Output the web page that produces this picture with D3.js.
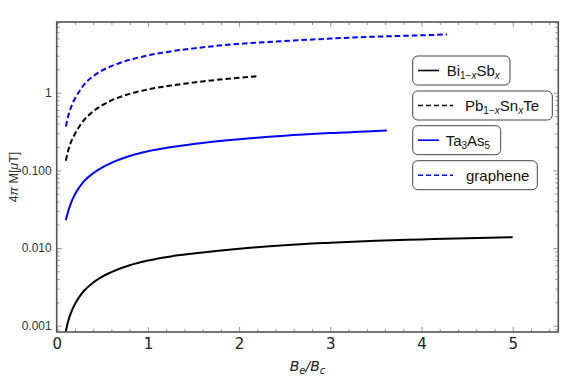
<!DOCTYPE html>
<html>
<head>
<meta charset="utf-8">
<script src="https://cdn.jsdelivr.net/npm/d3@7"></script>
<style>
  body { margin: 0; background: #fff; }
  svg { display: block; }
</style>
</head>
<body>
<div id="container"></div>
<script>
// values
let biX = [0.1, 0.125, 0.15, 0.2, 0.25, 0.3, 0.4, 0.5, 0.6, 0.8, 1.0, 1.25, 1.5, 2.0, 2.5, 3.0, 3.5, 4.0, 4.5, 5.0];
let biY = [0.00084, 0.00114, 0.0014, 0.0019, 0.00237, 0.00282, 0.0036, 0.0043, 0.0049, 0.0060, 0.0069, 0.0078, 0.0085, 0.0098, 0.0109, 0.0117, 0.0124, 0.0129, 0.0134, 0.0138];

let pbX = [0.1, 0.125, 0.15, 0.2, 0.25, 0.3, 0.4, 0.5, 0.6, 0.8, 1.0, 1.25, 1.5, 2.0, 2.21];
let pbY = [0.133, 0.178, 0.22, 0.295, 0.37, 0.445, 0.575, 0.69, 0.795, 0.965, 1.10, 1.235, 1.35, 1.56, 1.63];

let taX = [0.1, 0.125, 0.15, 0.2, 0.25, 0.3, 0.4, 0.5, 0.6, 0.8, 1.0, 1.25, 1.5, 2.0, 2.5, 3.0, 3.5, 3.62];
let taY = [0.0228, 0.0295, 0.0362, 0.0493, 0.061, 0.0725, 0.092, 0.109, 0.125, 0.153, 0.176, 0.199, 0.219, 0.252, 0.280, 0.302, 0.321, 0.327];

let grX = [0.1, 0.125, 0.15, 0.2, 0.25, 0.3, 0.4, 0.5, 0.6, 0.8, 1.0, 1.25, 1.5, 2.0, 2.5, 3.0, 3.5, 4.0, 4.28];
let grY = [0.366, 0.495, 0.615, 0.84, 1.05, 1.27, 1.63, 1.94, 2.2, 2.65, 3.02, 3.40, 3.72, 4.25, 4.62, 4.97, 5.27, 5.48, 5.62];

let xTicks = [0, 1, 2, 3, 4, 5];
let xTickLabels = ["0", "1", "2", "3", "4", "5"];
let yTicks = [0.001, 0.01, 0.1, 1];
let yTickLabels = ["0.001", "0.010", "0.100", "1"];

let w = 565;
let h = 377;
let plotL = 56.7, plotR = 558.3, plotT = 22, plotB = 332;

let viz = d3.select("#container")
  .append("svg")
    .attr("width", w)
    .attr("height", h)
;

let xScale = d3.scaleLinear().domain([0, 5.5]).range([plotL, plotR]);
let yScale = d3.scaleLog().domain([0.00083, 8.13]).range([plotB, plotT]);

// minor ticks
let xMinor = d3.range(0, 5.51, 0.2).filter(function(v){ return Math.abs(v - Math.round(v)) > 0.01; });
let yMinor = [];
[0.0001, 0.001, 0.01, 0.1, 1].forEach(function(d){
  for (let k = 2; k <= 9; k++) {
    let v = d * k;
    if (v > 0.00083 && v < 8.13) yMinor.push(v);
  }
});

function styleAxis(g){
  g.select(".domain").remove();
  g.selectAll(".tick line").attr("stroke", "#999").attr("stroke-width", 1);
}

// major ticks with labels
viz.append("g")
  .attr("transform", "translate(0," + plotB + ")")
  .call(d3.axisBottom(xScale).tickValues(xTicks).tickSize(-5).tickPadding(6)
    .tickFormat(function(d, i){ return xTickLabels[i]; }))
  .call(styleAxis)
  .call(function(g){
    g.selectAll("text").attr("font-family", "DejaVu Sans").attr("font-size", 15).attr("fill", "#222");
  })
;
viz.append("g")
  .attr("transform", "translate(" + plotL + ",0)")
  .call(d3.axisLeft(yScale).tickValues(yTicks).tickSize(-5).tickPadding(5)
    .tickFormat(function(d, i){ return yTickLabels[i]; }))
  .call(styleAxis)
  .call(function(g){
    g.selectAll("text").attr("font-family", "Liberation Sans").attr("font-size", 12).attr("fill", "#333");
  })
;
// mirrored ticks
viz.append("g")
  .attr("transform", "translate(0," + plotT + ")")
  .call(d3.axisTop(xScale).tickValues(xTicks).tickSize(-5).tickFormat(""))
  .call(styleAxis)
;
viz.append("g")
  .attr("transform", "translate(" + plotR + ",0)")
  .call(d3.axisRight(yScale).tickValues(yTicks).tickSize(-5).tickFormat(""))
  .call(styleAxis)
;
// minor ticks on all four sides
viz.append("g").attr("transform", "translate(0," + plotB + ")")
  .call(d3.axisBottom(xScale).tickValues(xMinor).tickSize(-3).tickFormat("")).call(styleAxis);
viz.append("g").attr("transform", "translate(0," + plotT + ")")
  .call(d3.axisTop(xScale).tickValues(xMinor).tickSize(-3).tickFormat("")).call(styleAxis);
viz.append("g").attr("transform", "translate(" + plotL + ",0)")
  .call(d3.axisLeft(yScale).tickValues(yMinor).tickSize(-3).tickFormat("")).call(styleAxis);
viz.append("g").attr("transform", "translate(" + plotR + ",0)")
  .call(d3.axisRight(yScale).tickValues(yMinor).tickSize(-3).tickFormat("")).call(styleAxis);

// curves, clipped to the frame
viz.append("clipPath").attr("id", "clip")
  .append("rect")
    .attr("x", plotL).attr("y", plotT)
    .attr("width", plotR - plotL).attr("height", plotB - plotT)
;

let series = [
  { xs: biX, ys: biY, color: "black", dash: null },
  { xs: pbX, ys: pbY, color: "black", dash: "5.5,3" },
  { xs: taX, ys: taY, color: "#0000ff", dash: null },
  { xs: grX, ys: grY, color: "#0000ff", dash: "5.5,3" }
];

let line = d3.line()
  .x(function(d){ return xScale(d[0]); })
  .y(function(d){ return yScale(d[1]); })
  .curve(d3.curveMonotoneX)
;

viz.append("g").attr("clip-path", "url(#clip)")
  .selectAll("path").data(series).enter()
  .append("path")
    .attr("d", function(s){ return line(d3.zip(s.xs, s.ys)); })
    .attr("fill", "none")
    .attr("stroke", function(s){ return s.color; })
    .attr("stroke-width", 2)
    .attr("stroke-dasharray", function(s){ return s.dash; })
;

// frame
viz.append("rect")
  .attr("x", plotL).attr("y", plotT)
  .attr("width", plotR - plotL).attr("height", plotB - plotT)
  .attr("fill", "none")
  .attr("stroke", "#555")
  .attr("stroke-width", 1.6)
;

// axis labels
let xLabel = viz.append("text")
  .attr("x", (plotL + plotR) / 2)
  .attr("y", 371)
  .attr("text-anchor", "middle")
  .attr("font-family", "DejaVu Sans")
  .attr("font-size", 14)
  .attr("font-style", "italic")
  .attr("fill", "#222")
;
xLabel.append("tspan").text("B");
xLabel.append("tspan").attr("font-size", 10).attr("dy", 3).text("e");
xLabel.append("tspan").attr("dy", -3).text("/B");
xLabel.append("tspan").attr("font-size", 10).attr("dy", 3).text("c");

let yLabel = viz.append("text")
  .attr("transform", "translate(18," + ((plotT + plotB) / 2) + ") rotate(-90)")
  .attr("text-anchor", "middle")
  .attr("font-family", "Liberation Sans")
  .attr("font-size", 12.5)
  .attr("fill", "#333")
;
yLabel.append("tspan").text("4");
yLabel.append("tspan").attr("font-style", "italic").text("π");
yLabel.append("tspan").text(" M[");
yLabel.append("tspan").attr("font-style", "italic").text("μ");
yLabel.append("tspan").text("T]");

// legend
let legendItems = [
  { parts: [["Bi", 0], ["1\u2212", 1], ["x", 2], ["Sb", 0], ["x", 2]], width: 97.3, color: "black", dash: null, lineEnd: 439, textX: 446.7 },
  { parts: [["Pb", 0], ["1\u2212", 1], ["x", 2], ["Sn", 0], ["x", 2], ["Te", 0]], width: 139.6, color: "black", dash: "5,3", lineEnd: 453, textX: 465 },
  { parts: [["Ta", 0], ["3", 1], ["As", 0], ["5", 1]], width: 88, color: "#0000ff", dash: null, lineEnd: 439, textX: 445.7 },
  { parts: [["graphene", 0]], width: 124.6, color: "#0000ff", dash: "5,3", lineEnd: 453, textX: 466 }
];
let legendTop = [56, 91, 125.7, 160.7];

let lg = viz.selectAll(".legend").data(legendItems).enter()
  .append("g")
    .attr("class", "legend")
    .attr("transform", function(d, i){ return "translate(0," + legendTop[i] + ")"; })
;
lg.append("rect")
  .attr("x", 412.7).attr("y", 0)
  .attr("width", function(d){ return d.width; })
  .attr("height", 29)
  .attr("rx", 5)
  .attr("fill", "white")
  .attr("stroke", "#444")
  .attr("stroke-width", 1)
;
lg.append("line")
  .attr("x1", 418).attr("x2", function(d){ return d.lineEnd; })
  .attr("y1", 14.5).attr("y2", 14.5)
  .attr("stroke", function(d){ return d.color; })
  .attr("stroke-width", 1.6)
  .attr("stroke-dasharray", function(d){ return d.dash; })
;
lg.each(function(d){
  let t = d3.select(this).append("text")
    .attr("x", d.textX).attr("y", 20)
    .attr("font-family", "Liberation Sans")
    .attr("font-size", 15)
    .attr("fill", "#111")
  ;
  let lowered = false;
  d.parts.forEach(function(p){
    let span = t.append("tspan").text(p[0]);
    let isSub = p[1] > 0;
    if (isSub && !lowered) { span.attr("dy", 3); lowered = true; }
    if (!isSub && lowered) { span.attr("dy", -3); lowered = false; }
    if (isSub) span.attr("font-size", 10);
    if (p[1] === 2) span.attr("font-style", "italic");
  });
});
</script>
</body>
</html>
